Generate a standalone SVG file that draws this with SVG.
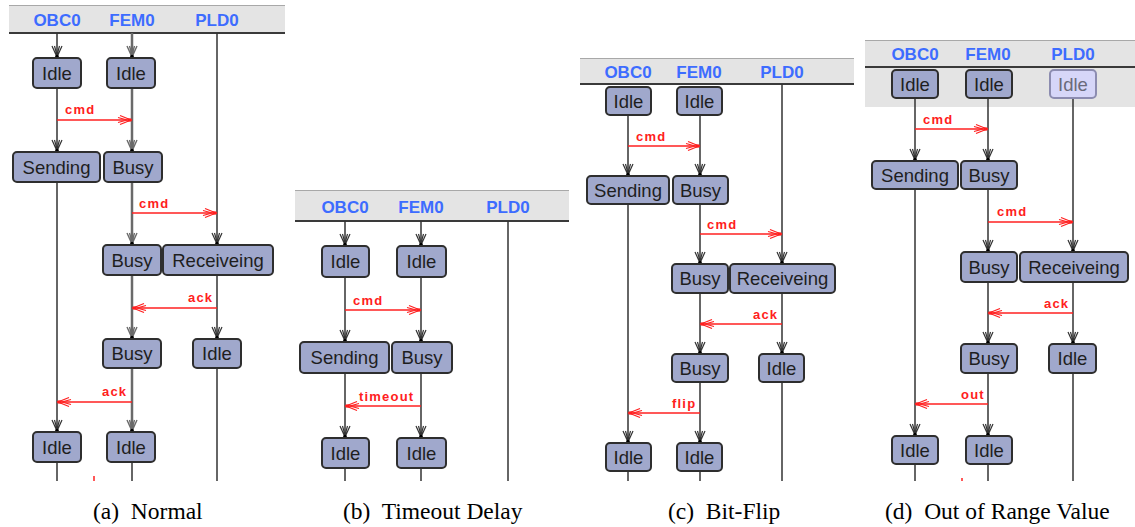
<svg xmlns="http://www.w3.org/2000/svg" width="1135" height="527" viewBox="0 0 1135 527">
<style>
.hdr{fill:#e4e4e4}
.hl{stroke:#3a3a3a;stroke-width:2}
.ht{stroke:#a8a8a8;stroke-width:1}
.lab{font-family:"Liberation Sans",Arial,sans-serif;font-weight:bold;font-size:17px;fill:#3d6cff;text-anchor:middle}
.box rect{fill:#a0a8cc;stroke:#2e2e2e;stroke-width:2}
.box text{font-family:"Liberation Sans",Arial,sans-serif;font-size:18.5px;fill:#1e1e1e;text-anchor:middle}
.box.pale rect{fill:#d6d6f8;stroke:#8c8cb0}
.box.pale text{fill:#6a6a7a}
.ll{stroke:#333;stroke-width:1.5;fill:none}
.lg{stroke:#6a6a6a;stroke-width:2.5;fill:none}
.msg{stroke:#ff2020;stroke-width:1.5;fill:none}
.ml{font-family:"Liberation Sans",Arial,sans-serif;font-weight:bold;font-size:13px;fill:#ff2020;letter-spacing:1.2px}
.cap{font-family:"Liberation Serif","Times New Roman",serif;font-size:23.5px;fill:#000}
</style>
<defs>
<marker id="ad" markerUnits="userSpaceOnUse" markerWidth="30" markerHeight="30" viewBox="-15 -15 30 30" refX="0" refY="0" orient="auto" overflow="visible">
<path d="M-12,-5 L-1,0 L-12,5 M-12,-2.5 L-3,0 L-12,2.5" fill="none" stroke="#333" stroke-width="1.2"/>
<circle cx="-1.5" cy="0" r="1.8" fill="#000"/>
</marker>
<marker id="ag" markerUnits="userSpaceOnUse" markerWidth="30" markerHeight="30" viewBox="-15 -15 30 30" refX="0" refY="0" orient="auto" overflow="visible">
<path d="M-12,-5 L-1,0 L-12,5 M-12,-2.5 L-3,0 L-12,2.5" fill="none" stroke="#6a6a6a" stroke-width="1.4"/>
<circle cx="-1.5" cy="0" r="1.8" fill="#000"/>
</marker>
<marker id="am" markerUnits="userSpaceOnUse" markerWidth="30" markerHeight="30" viewBox="-15 -15 30 30" refX="0" refY="0" orient="auto" overflow="visible">
<path d="M-12,-4.5 L-1,0 L-12,4.5 M-14,-2.5 L-5,0 L-14,2.5" fill="none" stroke="#ff2020" stroke-width="1.2"/>
<rect x="-4" y="-1.6" width="3.2" height="3.2" fill="#ff2020"/>
</marker>
</defs>

<!-- headers -->
<g id="headers">
<rect class="hdr" x="9" y="5" width="276" height="28"/>
<line class="ht" x1="9" y1="5.5" x2="285" y2="5.5"/>
<line class="hl" x1="9" y1="33" x2="285" y2="33"/>
<text class="lab" x="57" y="26">OBC0</text><text class="lab" x="132" y="26">FEM0</text><text class="lab" x="217" y="26">PLD0</text>

<rect class="hdr" x="295" y="190" width="274" height="31"/>
<line class="ht" x1="295" y1="190.5" x2="569" y2="190.5"/>
<line class="hl" x1="295" y1="221" x2="569" y2="221"/>
<text class="lab" x="345" y="213">OBC0</text><text class="lab" x="421" y="213">FEM0</text><text class="lab" x="508" y="213">PLD0</text>

<rect class="hdr" x="580" y="58" width="274" height="26"/>
<line class="ht" x1="580" y1="58.5" x2="854" y2="58.5"/>
<line class="hl" x1="580" y1="84" x2="854" y2="84"/>
<text class="lab" x="628" y="78">OBC0</text><text class="lab" x="699" y="78">FEM0</text><text class="lab" x="782" y="78">PLD0</text>

<rect class="hdr" x="865" y="40" width="270" height="67"/>
<line class="ht" x1="865" y1="40.5" x2="1135" y2="40.5"/>
<line class="hl" x1="865" y1="67" x2="1135" y2="67"/>
<text class="lab" x="915" y="60">OBC0</text><text class="lab" x="988" y="60">FEM0</text><text class="lab" x="1073" y="60">PLD0</text>
</g>

<g id="connectors">
<!-- panel a lifelines -->
<line class="ll" x1="57" y1="33" x2="57" y2="58" marker-end="url(#ad)"/>
<line class="ll" x1="57" y1="88" x2="57" y2="152" marker-end="url(#ad)"/>
<line class="ll" x1="57" y1="182" x2="57" y2="432" marker-end="url(#ad)"/>
<line class="ll" x1="57" y1="462" x2="57" y2="481"/>
<line class="lg" x1="132" y1="33" x2="132" y2="58" marker-end="url(#ag)"/>
<line class="lg" x1="132" y1="88" x2="132" y2="152" marker-end="url(#ag)"/>
<line class="lg" x1="132" y1="182" x2="132" y2="245" marker-end="url(#ag)"/>
<line class="lg" x1="132" y1="275" x2="132" y2="339" marker-end="url(#ag)"/>
<line class="lg" x1="132" y1="368" x2="132" y2="432" marker-end="url(#ag)"/>
<line class="ll" x1="132" y1="462" x2="132" y2="481"/>
<line class="ll" x1="217" y1="33" x2="217" y2="245" marker-end="url(#ad)"/>
<line class="ll" x1="217" y1="275" x2="217" y2="339" marker-end="url(#ad)"/>
<line class="ll" x1="217" y1="368" x2="217" y2="481"/>
<line class="msg" x1="57" y1="120" x2="132" y2="120" marker-end="url(#am)"/>
<line class="msg" x1="132" y1="213" x2="217" y2="213" marker-end="url(#am)"/>
<line class="msg" x1="217" y1="308" x2="132" y2="308" marker-end="url(#am)"/>
<line class="msg" x1="132" y1="402" x2="57" y2="402" marker-end="url(#am)"/>
<text class="ml" x="65" y="114">cmd</text>
<text class="ml" x="139" y="208">cmd</text>
<text class="ml" x="188" y="302">ack</text>
<text class="ml" x="102" y="396">ack</text>
<line stroke="#ff2020" stroke-width="1.5" x1="94" y1="476" x2="94" y2="481"/>

<!-- panel b -->
<line class="ll" x1="345" y1="221" x2="345" y2="246" marker-end="url(#ad)"/>
<line class="ll" x1="345" y1="277" x2="345" y2="342" marker-end="url(#ad)"/>
<line class="ll" x1="345" y1="373" x2="345" y2="438" marker-end="url(#ad)"/>
<line class="ll" x1="345" y1="468" x2="345" y2="481"/>
<line class="ll" x1="421" y1="221" x2="421" y2="246" marker-end="url(#ad)"/>
<line class="ll" x1="421" y1="277" x2="421" y2="342" marker-end="url(#ad)"/>
<line class="ll" x1="421" y1="373" x2="421" y2="438" marker-end="url(#ad)"/>
<line class="ll" x1="421" y1="468" x2="421" y2="481"/>
<line class="ll" x1="508" y1="221" x2="508" y2="481"/>
<line class="msg" x1="345" y1="310" x2="421" y2="310" marker-end="url(#am)"/>
<line class="msg" x1="421" y1="406" x2="345" y2="406" marker-end="url(#am)"/>
<text class="ml" x="353" y="305">cmd</text>
<text class="ml" x="359" y="401">timeout</text>

<!-- panel c -->
<line class="ll" x1="628" y1="115" x2="628" y2="176" marker-end="url(#ad)"/>
<line class="ll" x1="628" y1="204" x2="628" y2="443" marker-end="url(#ad)"/>
<line class="ll" x1="628" y1="471" x2="628" y2="481"/>
<line class="ll" x1="700" y1="115" x2="700" y2="176" marker-end="url(#ad)"/>
<line class="ll" x1="700" y1="204" x2="700" y2="264" marker-end="url(#ad)"/>
<line class="ll" x1="700" y1="293" x2="700" y2="354" marker-end="url(#ad)"/>
<line class="ll" x1="700" y1="382" x2="700" y2="443" marker-end="url(#ad)"/>
<line class="ll" x1="700" y1="471" x2="700" y2="481"/>
<line class="ll" x1="782" y1="84" x2="782" y2="264" marker-end="url(#ad)"/>
<line class="ll" x1="782" y1="293" x2="782" y2="354" marker-end="url(#ad)"/>
<line class="ll" x1="782" y1="382" x2="782" y2="481"/>
<line class="msg" x1="628" y1="146" x2="700" y2="146" marker-end="url(#am)"/>
<line class="msg" x1="700" y1="234" x2="782" y2="234" marker-end="url(#am)"/>
<line class="msg" x1="782" y1="324" x2="700" y2="324" marker-end="url(#am)"/>
<line class="msg" x1="700" y1="413" x2="628" y2="413" marker-end="url(#am)"/>
<text class="ml" x="636" y="141">cmd</text>
<text class="ml" x="707" y="229">cmd</text>
<text class="ml" x="753" y="319">ack</text>
<text class="ml" x="672" y="408">flip</text>

<!-- panel d -->
<line class="ll" x1="915" y1="98" x2="915" y2="161" marker-end="url(#ad)"/>
<line class="ll" x1="915" y1="189" x2="915" y2="436" marker-end="url(#ad)"/>
<line class="ll" x1="915" y1="464" x2="915" y2="481"/>
<line class="ll" x1="988" y1="98" x2="988" y2="161" marker-end="url(#ad)"/>
<line class="ll" x1="988" y1="189" x2="988" y2="252" marker-end="url(#ad)"/>
<line class="ll" x1="988" y1="282" x2="988" y2="344" marker-end="url(#ad)"/>
<line class="ll" x1="988" y1="373" x2="988" y2="436" marker-end="url(#ad)"/>
<line class="ll" x1="988" y1="464" x2="988" y2="481"/>
<line class="ll" x1="1073" y1="98" x2="1073" y2="252" marker-end="url(#ad)"/>
<line class="ll" x1="1073" y1="282" x2="1073" y2="344" marker-end="url(#ad)"/>
<line class="ll" x1="1073" y1="373" x2="1073" y2="481"/>
<line class="msg" x1="915" y1="129" x2="988" y2="129" marker-end="url(#am)"/>
<line class="msg" x1="988" y1="222" x2="1073" y2="222" marker-end="url(#am)"/>
<line class="msg" x1="1073" y1="313" x2="988" y2="313" marker-end="url(#am)"/>
<line class="msg" x1="988" y1="404" x2="915" y2="404" marker-end="url(#am)"/>
<text class="ml" x="923" y="124">cmd</text>
<text class="ml" x="997" y="216">cmd</text>
<text class="ml" x="1044" y="308">ack</text>
<text class="ml" x="961" y="399">out</text>
<line stroke="#ff2020" stroke-width="1.5" x1="962" y1="478" x2="962" y2="481"/>
</g>

<!-- panel a nodes -->
<g id="a-obc0-idle1" class="box"><rect x="33" y="58" width="48" height="30" rx="4"/><text x="57" y="80">Idle</text></g>
<g id="a-fem0-idle1" class="box"><rect x="107" y="58" width="48" height="30" rx="4"/><text x="131" y="80">Idle</text></g>
<g id="a-obc0-sending" class="box"><rect x="13" y="152" width="87" height="30" rx="4"/><text x="56.5" y="174">Sending</text></g>
<g id="a-fem0-busy1" class="box"><rect x="104" y="152" width="58" height="30" rx="4"/><text x="133" y="174">Busy</text></g>
<g id="a-fem0-busy2" class="box"><rect x="103" y="245" width="58" height="30" rx="4"/><text x="132" y="267">Busy</text></g>
<g id="a-pld0-receiveing" class="box"><rect x="163" y="245" width="110" height="30" rx="4"/><text x="218" y="267">Receiveing</text></g>
<g id="a-fem0-busy3" class="box"><rect x="103" y="339" width="58" height="29" rx="4"/><text x="132" y="360">Busy</text></g>
<g id="a-pld0-idle" class="box"><rect x="193" y="339" width="48" height="29" rx="4"/><text x="217" y="360">Idle</text></g>
<g id="a-obc0-idle2" class="box"><rect x="33" y="432" width="48" height="30" rx="4"/><text x="57" y="454">Idle</text></g>
<g id="a-fem0-idle2" class="box"><rect x="107" y="432" width="48" height="30" rx="4"/><text x="131" y="454">Idle</text></g>

<!-- panel b nodes -->
<g id="b-obc0-idle1" class="box"><rect x="322" y="246" width="47" height="31" rx="4"/><text x="345.5" y="268">Idle</text></g>
<g id="b-fem0-idle1" class="box"><rect x="397" y="246" width="49" height="31" rx="4"/><text x="421.5" y="268">Idle</text></g>
<g id="b-obc0-sending" class="box"><rect x="300" y="342" width="89" height="31" rx="4"/><text x="344.5" y="364">Sending</text></g>
<g id="b-fem0-busy" class="box"><rect x="392" y="342" width="60" height="31" rx="4"/><text x="422" y="364">Busy</text></g>
<g id="b-obc0-idle2" class="box"><rect x="322" y="438" width="47" height="30" rx="4"/><text x="345.5" y="460">Idle</text></g>
<g id="b-fem0-idle2" class="box"><rect x="397" y="438" width="49" height="30" rx="4"/><text x="421.5" y="460">Idle</text></g>

<!-- panel c nodes -->
<g id="c-obc0-idle1" class="box"><rect x="606" y="87" width="45" height="28" rx="4"/><text x="628.5" y="108">Idle</text></g>
<g id="c-fem0-idle1" class="box"><rect x="677" y="87" width="45" height="28" rx="4"/><text x="699.5" y="108">Idle</text></g>
<g id="c-obc0-sending" class="box"><rect x="587" y="176" width="82" height="28" rx="4"/><text x="628" y="197">Sending</text></g>
<g id="c-fem0-busy1" class="box"><rect x="673" y="176" width="55" height="28" rx="4"/><text x="700.5" y="197">Busy</text></g>
<g id="c-fem0-busy2" class="box"><rect x="672" y="264" width="56" height="29" rx="4"/><text x="700" y="285">Busy</text></g>
<g id="c-pld0-receiveing" class="box"><rect x="730" y="264" width="105" height="29" rx="4"/><text x="782.5" y="285">Receiveing</text></g>
<g id="c-fem0-busy3" class="box"><rect x="672" y="354" width="56" height="28" rx="4"/><text x="700" y="375">Busy</text></g>
<g id="c-pld0-idle" class="box"><rect x="759" y="354" width="45" height="28" rx="4"/><text x="781.5" y="375">Idle</text></g>
<g id="c-obc0-idle2" class="box"><rect x="606" y="443" width="45" height="28" rx="4"/><text x="628.5" y="464">Idle</text></g>
<g id="c-fem0-idle2" class="box"><rect x="677" y="443" width="45" height="28" rx="4"/><text x="699.5" y="464">Idle</text></g>

<!-- panel d nodes -->
<g id="d-obc0-idle1" class="box"><rect x="892" y="70" width="46" height="28" rx="4"/><text x="915" y="91">Idle</text></g>
<g id="d-fem0-idle1" class="box"><rect x="966" y="70" width="46" height="28" rx="4"/><text x="989" y="91">Idle</text></g>
<g id="d-pld0-idle1" class="box pale"><rect x="1050" y="70" width="46" height="28" rx="4"/><text x="1073" y="91">Idle</text></g>
<g id="d-obc0-sending" class="box"><rect x="872" y="161" width="86" height="28" rx="4"/><text x="915" y="182">Sending</text></g>
<g id="d-fem0-busy1" class="box"><rect x="961" y="161" width="56" height="28" rx="4"/><text x="989" y="182">Busy</text></g>
<g id="d-fem0-busy2" class="box"><rect x="961" y="252" width="56" height="30" rx="4"/><text x="989" y="274">Busy</text></g>
<g id="d-pld0-receiveing" class="box"><rect x="1020" y="252" width="108" height="30" rx="4"/><text x="1074" y="274">Receiveing</text></g>
<g id="d-fem0-busy3" class="box"><rect x="961" y="344" width="56" height="29" rx="4"/><text x="989" y="365">Busy</text></g>
<g id="d-pld0-idle2" class="box"><rect x="1049" y="344" width="47" height="29" rx="4"/><text x="1072.5" y="365">Idle</text></g>
<g id="d-obc0-idle2" class="box"><rect x="892" y="436" width="46" height="28" rx="4"/><text x="915" y="457">Idle</text></g>
<g id="d-fem0-idle2" class="box"><rect x="966" y="436" width="46" height="28" rx="4"/><text x="989" y="457">Idle</text></g>

<g id="captions">
<text class="cap" x="93" y="519" xml:space="preserve">(a)  Normal</text>
<text class="cap" x="343" y="519" xml:space="preserve">(b)  Timeout Delay</text>
<text class="cap" x="668" y="519" xml:space="preserve">(c)  Bit-Flip</text>
<text class="cap" x="885" y="519" xml:space="preserve">(d)  Out of Range Value</text>
</g>
</svg>
